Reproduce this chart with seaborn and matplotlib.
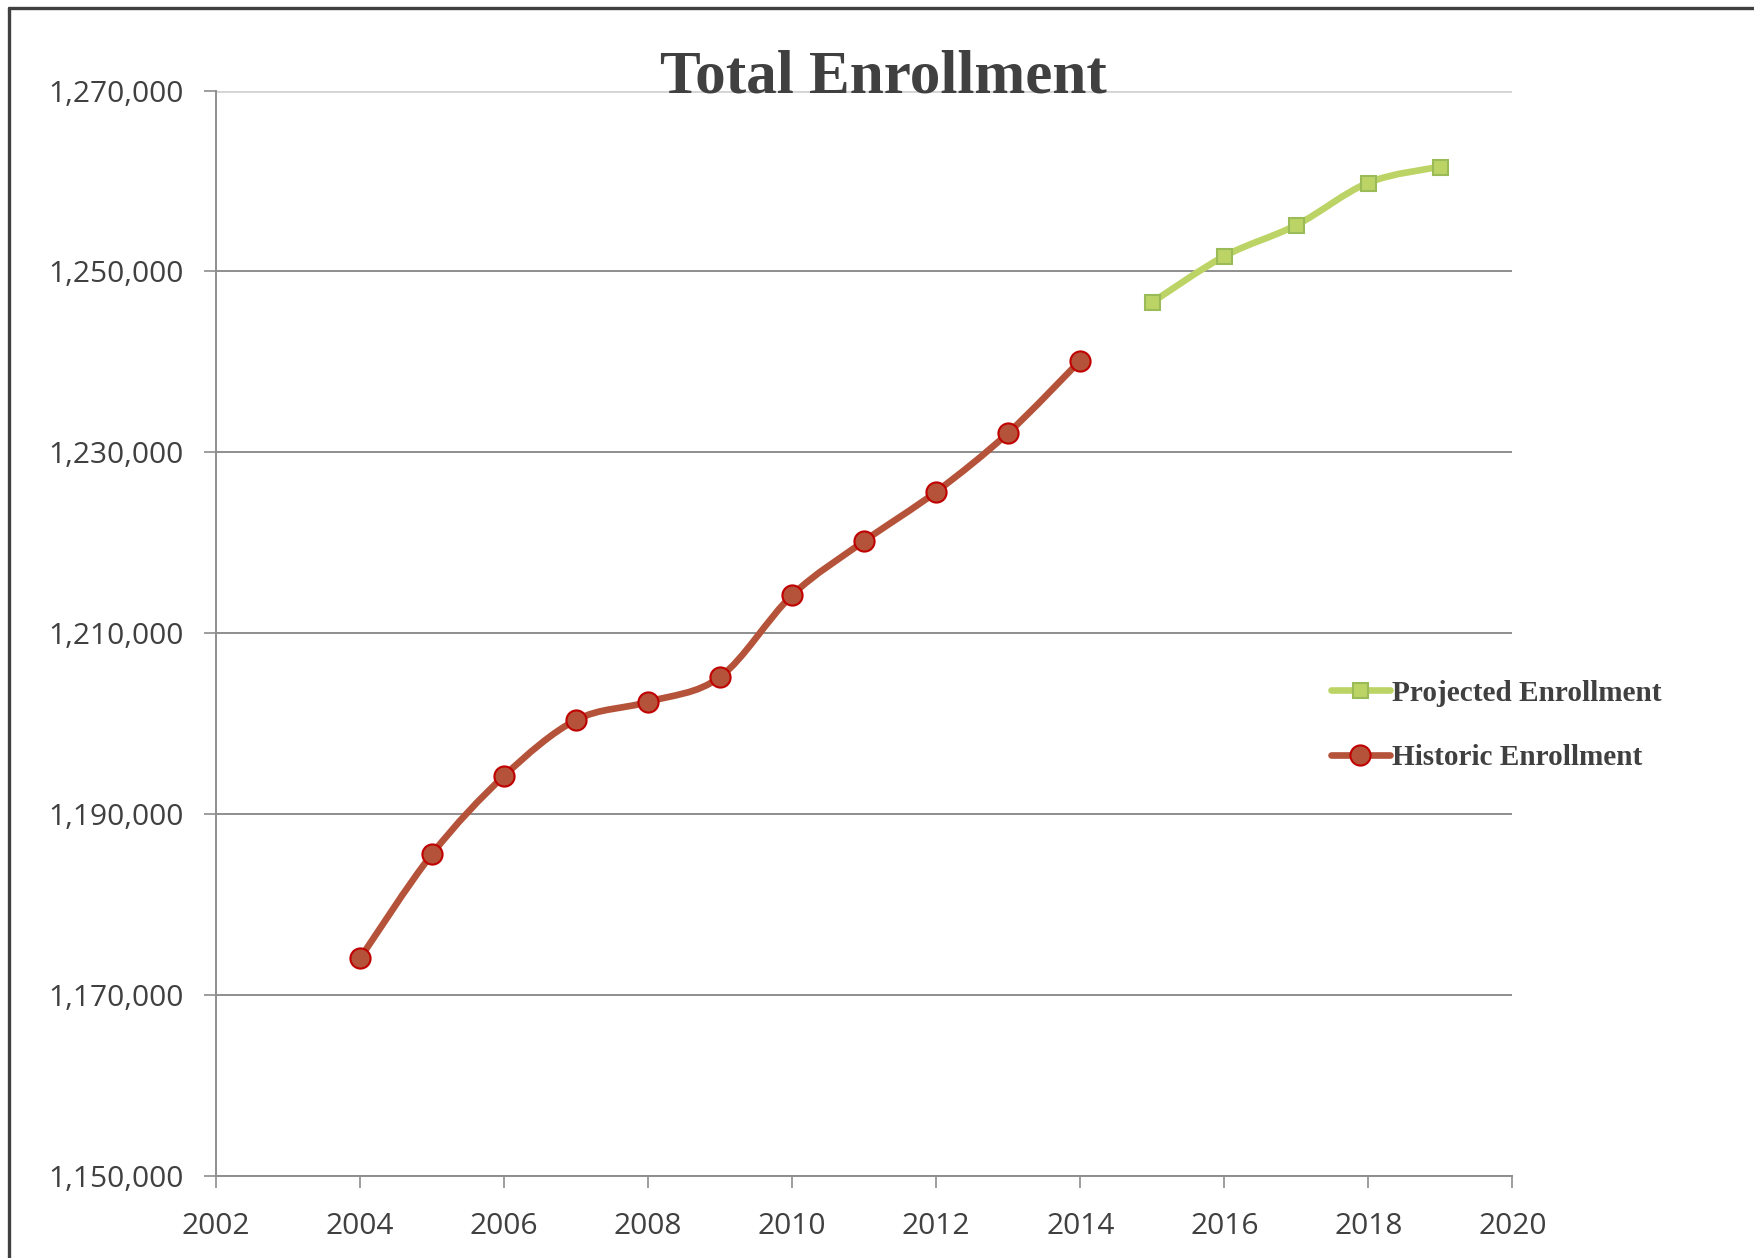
import matplotlib
matplotlib.use("Agg")
import matplotlib.pyplot as plt
from matplotlib.path import Path
from matplotlib.patches import PathPatch
from matplotlib.lines import Line2D
from matplotlib.ticker import FuncFormatter
import numpy as np
import pandas as pd
import seaborn as sns

# ---- data ----
hist_years = [2004, 2005, 2006, 2007, 2008, 2009, 2010, 2011, 2012, 2013, 2014]
hist_values = [1174030, 1185570, 1194210, 1200400, 1202400, 1205160,
               1214210, 1220180, 1225640, 1232150, 1240150]
proj_years = [2015, 2016, 2017, 2018, 2019]
proj_values = [1246600, 1251690, 1255125, 1259820, 1261590]
x_ticks = [2002, 2004, 2006, 2008, 2010, 2012, 2014, 2016, 2018, 2020]
y_ticks = [1150000, 1170000, 1190000, 1210000, 1230000, 1250000, 1270000]
title_text = "Total Enrollment"
label_hist = "Historic Enrollment"
label_proj = "Projected Enrollment"

TEXT = "#404040"
HIST_LINE = "#B5533A"
HIST_EDGE = "#C00000"
PROJ_LINE = "#BCD466"
PROJ_EDGE = "#9BBB59"
TICK_FONT = ['Open Sans', 'DejaVu Sans']

sns.set_theme(style="white")
plt.rcParams['font.family'] = TICK_FONT

fig = plt.figure(figsize=(17.54, 12.58), dpi=100)
ax = fig.add_axes([0.1231, 0.0654, 0.8623 - 0.1231, 0.928 - 0.0654])

hist_df = pd.DataFrame({"Year": hist_years, "Enrollment": hist_values})
proj_df = pd.DataFrame({"Year": proj_years, "Enrollment": proj_values})


def smooth_path(xs, ys):
    pts = np.column_stack([xs, ys]).astype(float)
    n = len(pts)
    verts = [pts[0]]
    codes = [Path.MOVETO]
    for i in range(n - 1):
        p0 = pts[i - 1] if i > 0 else pts[i]
        p1 = pts[i]
        p2 = pts[i + 1]
        p3 = pts[i + 2] if i + 2 < n else pts[i + 1]
        c1 = p1 + (p2 - p0) / 6.0
        c2 = p2 - (p3 - p1) / 6.0
        verts += [c1, c2, p2]
        codes += [Path.CURVE4] * 3
    return Path(verts, codes)


LW = 4.8
for df, col in [(hist_df, HIST_LINE), (proj_df, PROJ_LINE)]:
    patch = PathPatch(smooth_path(df["Year"], df["Enrollment"]), facecolor="none",
                      edgecolor=col, lw=LW, capstyle="round", joinstyle="round",
                      transform=ax.transData, zorder=3)
    ax.add_patch(patch)

sns.lineplot(data=hist_df, x="Year", y="Enrollment", ax=ax, linestyle="",
             marker="o", markersize=14.5, markerfacecolor=HIST_LINE,
             markeredgecolor=HIST_EDGE, markeredgewidth=1.5, zorder=4)
sns.lineplot(data=proj_df, x="Year", y="Enrollment", ax=ax, linestyle="",
             marker="s", markersize=10.8, markerfacecolor=PROJ_LINE,
             markeredgecolor=PROJ_EDGE, markeredgewidth=1.5, zorder=4)

ax.set_xlim(2002, 2020)
ax.set_ylim(1150000, 1270000)
ax.set_xticks(x_ticks)
ax.set_yticks(y_ticks)
ax.yaxis.set_major_formatter(FuncFormatter(lambda v, p: f"{v:,.0f}"))
ax.set_xlabel("")
ax.set_ylabel("")

ax.grid(axis="y", color="#8E8E8E", lw=1.4)
ax.grid(axis="x", visible=False)
gls = ax.yaxis.get_gridlines()
if len(gls):
    gls[-1].set_color("#D4D4D4")
    gls[-1].set_linewidth(2.0)
ax.set_axisbelow(True)

for s in ["top", "right"]:
    ax.spines[s].set_visible(False)
for s in ["left", "bottom"]:
    ax.spines[s].set_color("#8E8E8E")
    ax.spines[s].set_linewidth(1.4)

ax.tick_params(axis="both", which="major", direction="out", length=8.5, width=1.2,
               color="#8E8E8E", labelcolor=TEXT, labelsize=21.5,
               left=True, bottom=True)
ax.tick_params(axis="y", pad=15)
ax.tick_params(axis="x", pad=17.5)
for lab in ax.get_xticklabels() + ax.get_yticklabels():
    lab.set_family(TICK_FONT)
    lab.set_fontweight("medium")

fig.text(0.5035, 0.9265, title_text, ha="center", va="baseline",
         fontsize=44, fontweight="bold", color=TEXT,
         family=['Liberation Serif', 'DejaVu Serif'])

handles = [
    Line2D([0], [0], color=PROJ_LINE, lw=LW, marker="s", markersize=10.8,
           markerfacecolor=PROJ_LINE, markeredgecolor=PROJ_EDGE, markeredgewidth=1.5,
           solid_capstyle="round"),
    Line2D([0], [0], color=HIST_LINE, lw=LW, marker="o", markersize=14.5,
           markerfacecolor=HIST_LINE, markeredgecolor=HIST_EDGE, markeredgewidth=1.5,
           solid_capstyle="round"),
]
leg = fig.legend(handles, [label_proj, label_hist], loc="center left",
                 bbox_to_anchor=(0.7588, 0.4235), frameon=False, borderpad=0,
                 borderaxespad=0, handlelength=2.0, handletextpad=0.1,
                 labelspacing=1.27,
                 prop={"family": ['Liberation Serif', 'DejaVu Serif'],
                       "weight": "bold", "size": 21.1})
for t in leg.get_texts():
    t.set_color(TEXT)

# outer frame lines (left and top)
fig.add_artist(Line2D([0.0051, 0.0051], [0, 0.9940], transform=fig.transFigure,
                      color="#404040", lw=2.4))
fig.add_artist(Line2D([0.0051, 1.0], [0.9940, 0.9940], transform=fig.transFigure,
                      color="#404040", lw=2.4))

fig.savefig("out.png", dpi=100, facecolor="white")
